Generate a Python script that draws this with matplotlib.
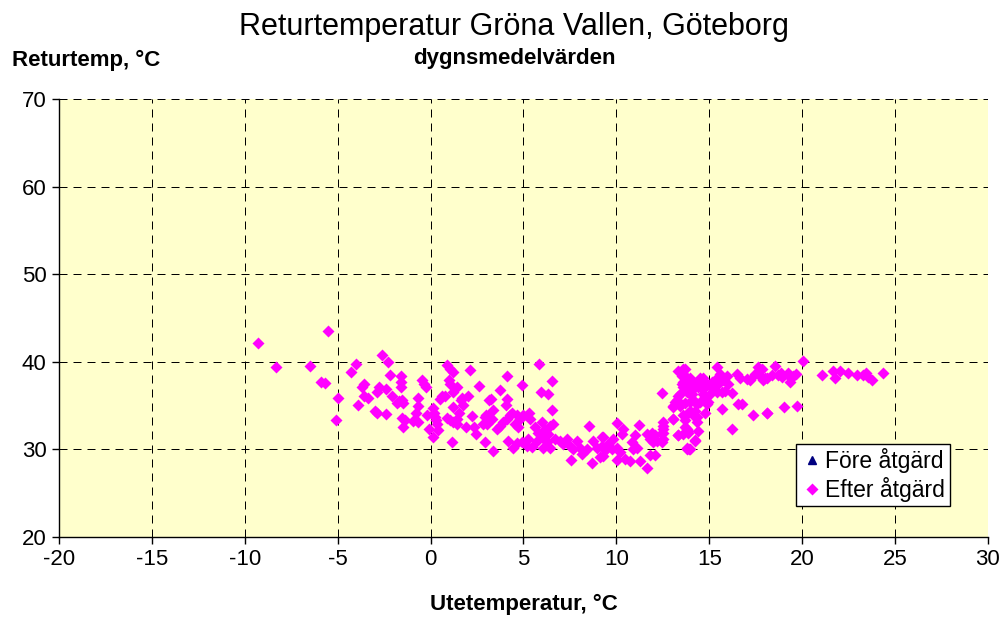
import matplotlib.pyplot as plt

plt.rcParams['font.family'] = ['Liberation Sans', 'DejaVu Sans']
plt.rcParams['axes.unicode_minus'] = False

# dygnsmedelvärden efter åtgärd: utetemperatur och returtemperatur
ute = [-9.3, -8.3, -5.5, -6.5, -5.9, -5.7, -5.0, -5.1, -4.0, -4.3, -3.6, -3.7, -3.6, -3.35, -3.9,
       -2.6, -2.3, -2.2, -2.8, -2.9, -2.4, -2.1, -1.6, -1.6, -1.6, -1.7, -1.55, -1.47, -1.83,
       -3.0, -2.9, -2.4, -1.56, -1.38, -1.5, -0.97, -0.66, -0.79, -0.66, -0.66, -0.48, -0.36, -0.25,
       -0.22, -0.08, 0.11, 0.14, 0.18, 0.24, 0.29, 0.36, 0.41, 0.6, 0.78, 0.51, 0.9, 1.04, 1.19,
       1.0, 1.04, 1.22, 1.43, 1.22, 1.67, 1.62, 1.72, 2.12, 2.03, 0.9, 1.04, 1.22, 1.4, 1.54, 1.43,
       1.13, 1.9, 2.21, 2.33, 2.44, 2.62, 2.93, 2.93, 3.1, 3.01, 3.16,
       5.85, 4.13, 4.92, 6.52, 5.92, 6.33, 3.74, 3.23, 4.13, 4.06, 3.34, 6.52, 2.98, 2.84, 3.29,
       3.55, 3.73, 3.91, 4.09, 4.27, 4.36, 4.63, 4.81, 4.54, 4.72, 4.99, 5.31, 5.35,
       3.34, 4.18, 4.45, 4.67, 4.9, 5.26, 5.17, 5.44,
       5.62, 5.8, 5.98, 6.16, 6.33, 6.43, 6.6, 5.98, 6.25, 6.43, 6.7, 6.96, 7.14, 7.32, 7.5, 7.68,
       7.86, 8.04, 5.71, 6.07, 7.54, 8.54, 8.67, 8.76, 8.94, 9.12, 9.21, 9.39, 9.56, 8.13, 8.4,
       9.26, 9.21, 9.39, 9.3, 10.02, 10.37, 10.28, 9.83, 9.75, 10.02, 10.19, 10.46, 10.73, 10.02,
       11.27, 11.63, 11.81, 12.08, 10.91, 11.09, 10.82, 11.0, 11.23,
       11.63, 11.9, 12.08, 12.17, 11.99, 11.81, 12.44, 12.44, 12.52, 12.52, 12.44,
       13.03, 13.03, 13.15, 13.33, 13.33, 13.6, 13.78, 13.87, 14.23, 14.41, 13.78, 13.92,
       13.51, 13.69, 13.51, 13.6, 13.78, 13.42, 13.69, 13.96, 14.14, 14.23, 13.96, 13.87, 14.32,
       14.5, 14.68, 14.86,
       13.34, 13.61, 13.52, 13.79, 13.96, 13.61, 13.87, 14.14, 14.32, 14.5, 14.68, 14.59, 14.41,
       14.14, 14.05, 13.79, 14.68, 14.86, 15.13, 15.31, 15.4, 15.58, 15.49, 15.76, 15.94, 16.03,
       15.85, 15.67, 15.4, 15.22, 15.04, 14.95, 14.77, 16.48, 16.66, 17.01, 17.19, 17.46, 17.64,
       17.73, 18.09, 16.57, 16.75, 16.21, 17.37, 18.09, 16.21, 15.67, 14.77, 14.14, 14.05, 14.32,
       13.7, 13.61, 13.07, 13.43, 13.25, 13.07, 14.32, 14.14, 13.96, 13.87, 13.7, 14.23, 13.79,
       13.96, 13.34, 12.53, 12.53, 12.53,
       17.82, 18.0, 17.91, 18.36, 18.54, 18.72, 18.84, 18.9, 19.26, 19.38, 19.34, 19.52, 19.67,
       20.03, 21.05, 21.64, 21.77, 22.04, 22.45, 22.93, 23.29, 23.43, 23.56, 23.74, 24.33,
       18.12, 19.02, 19.74]
retur = [42.2, 39.4, 43.5, 39.5, 37.7, 37.6, 35.9, 33.3, 39.8, 38.8, 37.5, 37.1, 36.1, 35.9, 35.1,
         40.8, 40.0, 38.5, 37.1, 36.6, 36.9, 36.1, 38.4, 37.7, 37.1, 35.5, 35.6, 35.3, 35.3,
         34.4, 34.2, 34.0, 33.6, 33.4, 32.6, 33.2, 33.1, 34.1, 35.0, 35.9, 37.9, 37.5, 37.1,
         33.9, 32.3, 31.4, 34.7, 34.2, 33.7, 33.3, 32.9, 32.2, 36.1, 36.1, 35.8, 39.6, 39.2, 38.8,
         37.9, 37.5, 36.5, 37.1, 34.8, 35.9, 35.6, 35.1, 39.1, 36.1, 33.6, 33.4, 33.1, 33.5, 34.1, 32.9,
         30.8, 32.5, 33.8, 32.6, 31.8, 37.2, 30.8, 33.7, 33.8, 32.9, 35.6,
         39.8, 38.4, 37.4, 37.8, 36.5, 36.3, 36.8, 35.7, 35.8, 35.1, 34.5, 34.5, 33.9, 32.9, 33.5,
         32.3, 32.7, 33.1, 33.5, 33.9, 34.1, 33.9, 33.5, 32.9, 32.5, 33.9, 34.1, 33.5,
         29.8, 31.0, 30.2, 30.7, 30.8, 31.2, 30.4, 30.3,
         32.5, 31.9, 33.1, 32.3, 31.8, 32.7, 32.9, 31.4, 30.8, 30.2, 31.2, 31.0, 30.6, 31.2, 30.4, 30.0,
         31.0, 30.2, 31.0, 30.2, 28.8, 32.7, 28.5, 31.0, 30.2, 29.1, 31.4, 29.9, 30.6, 29.5, 30.0,
         31.4, 30.4, 29.9, 29.3, 33.0, 32.3, 31.8, 31.2, 30.0, 30.2, 29.7, 28.9, 28.7, 28.8,
         28.7, 27.9, 29.4, 29.4, 30.0, 30.2, 30.8, 31.6, 32.8,
         31.8, 31.9, 31.6, 31.0, 30.8, 31.2, 30.8, 31.9, 33.1, 32.3, 36.4,
         33.5, 34.8, 35.4, 36.1, 31.6, 31.8, 32.3, 31.9, 31.1, 32.1, 30.0, 30.0,
         38.8, 39.2, 37.5, 37.1, 38.1, 36.3, 35.3, 36.3, 35.6, 34.4, 34.4, 34.1, 33.7,
         35.4, 36.3, 35.2,
         39.0, 39.2, 38.4, 38.2, 38.1, 37.7, 37.5, 37.7, 37.5, 38.1, 38.2, 37.5, 37.1,
         36.9, 36.3, 36.5, 36.9, 37.5, 37.7, 37.9, 39.4, 38.6, 37.5, 37.9, 38.4, 37.5,
         36.7, 36.5, 36.5, 36.9, 36.3, 35.4, 35.6, 38.6, 38.2, 38.0, 37.9, 38.6, 39.4,
         38.4, 38.1, 35.2, 35.2, 36.4, 33.9, 34.2, 32.3, 34.6, 34.2, 33.9, 34.2, 33.1,
         33.3, 33.9, 33.5, 35.0, 35.6, 35.0, 35.2, 35.6, 35.4, 32.1, 32.5, 31.0, 30.2,
         30.0, 31.6, 32.7, 31.9, 31.2,
         39.2, 38.1, 37.9, 38.5, 39.5, 38.5, 38.7, 38.3, 38.7, 38.2, 37.7, 38.4, 38.6,
         40.1, 38.5, 39.0, 38.2, 38.9, 38.7, 38.5, 38.5, 38.7, 38.3, 37.9, 38.7,
         34.2, 34.8, 35.0]

# före åtgärd saknar värden i diagrammet
fore_ute = []
fore_retur = []

fig = plt.figure(figsize=(10.04, 6.21), dpi=100)
ax = fig.add_axes([0.0588, 0.1353, 0.9252, 0.7053])
ax.set_facecolor('#FFFFCC')

ax.plot(fore_ute, fore_retur, '^', color='#000080', ms=6, label='Före åtgärd')
ax.plot(ute, retur, 'D', color='#FF00FF', mec='none', ms=5.8, label='Efter åtgärd')

ax.set_xlim(-20, 30)
ax.set_ylim(20, 70)
ax.set_xticks(range(-20, 31, 5))
ax.set_yticks(range(20, 71, 10))
ax.grid(True, color='black', linestyle=(0, (8, 6)), linewidth=0.72)
ax.tick_params(direction='out', length=5, width=1, labelsize=16, pad=4)
for sp in ax.spines.values():
    sp.set_linewidth(1)
    sp.set_color('black')
ax.spines['top'].set_visible(False)
ax.spines['right'].set_visible(False)

leg = ax.legend(loc='lower left', bbox_to_anchor=(0.793, 0.07), fontsize=16.5,
                frameon=True, fancybox=False, edgecolor='black', framealpha=1,
                handletextpad=0.1, handlelength=1.0, borderpad=0.2, labelspacing=0.15,
                borderaxespad=0)
leg.get_frame().set_linewidth(1)

fig.text(0.512, 0.957, 'Returtemperatur Gröna Vallen, Göteborg', ha='center', va='center', fontsize=22)
fig.text(0.512, 0.905, 'dygnsmedelvärden', ha='center', va='center', fontsize=16, fontweight='bold')
fig.text(0.012, 0.903, 'Returtemp, °C', ha='left', va='center', fontsize=16, fontweight='bold')
fig.text(0.522, 0.026, 'Utetemperatur, °C', ha='center', va='center', fontsize=16, fontweight='bold')

fig.savefig('out.png', dpi=100)
